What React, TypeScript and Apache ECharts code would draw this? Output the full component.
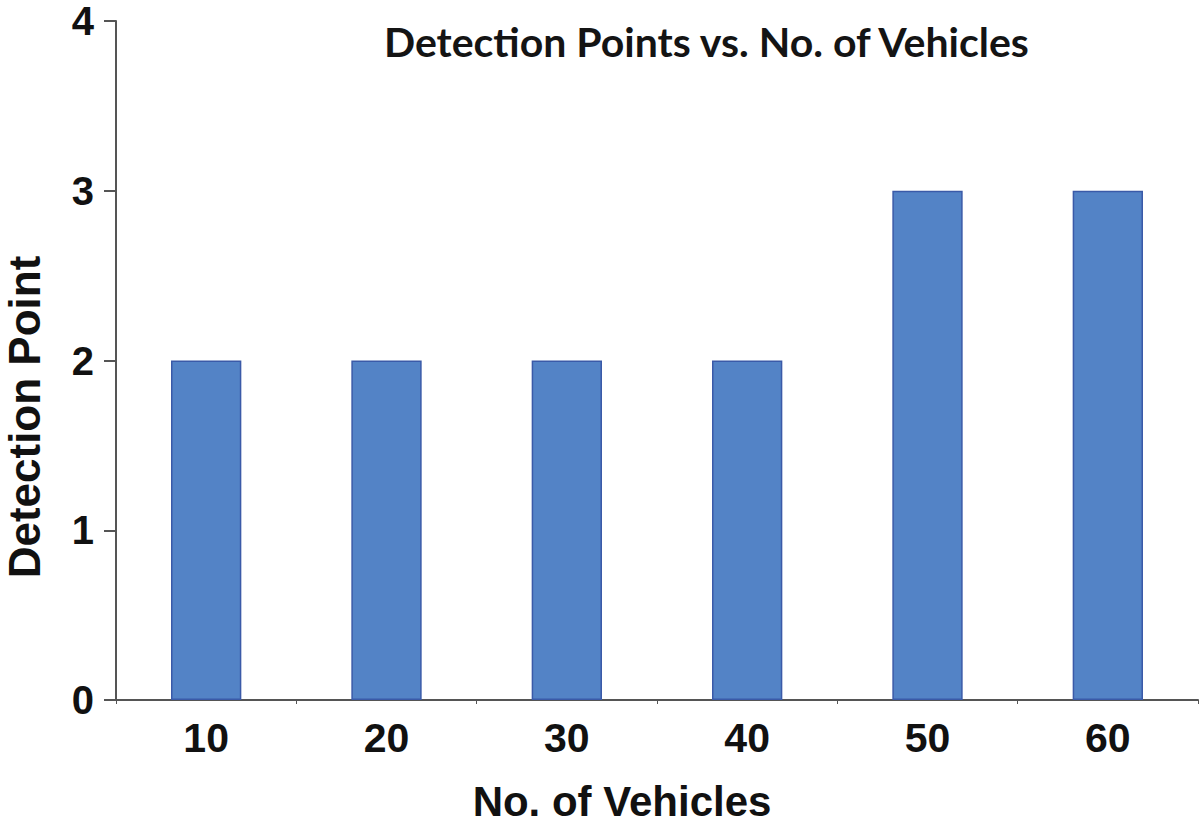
import React, { useEffect, useRef } from "react";
import * as echarts from "echarts";

const categories = ["10", "20", "30", "40", "50", "60"];
const detectionPoints = [2, 2, 2, 2, 3, 3];
const yTicks = [0, 1, 2, 3, 4];
const xTitle = "No. of Vehicles";
const yTitle = "Detection Point";

export default function App() {
  const ref = useRef<HTMLDivElement>(null);
  useEffect(() => {
    if (!ref.current) return;
    const chart = echarts.init(ref.current, null, { renderer: "svg" });
    const nameFont = {
      fontFamily: "Liberation Sans, Arial",
      fontWeight: "bold",
      fill: "#111",
      textAlign: "center",
      textVerticalAlign: "middle",
    };
    chart.setOption({
      animation: false,
      backgroundColor: "#ffffff",
      title: {
        text: "Detection Points vs. No. of Vehicles",
        left: 379,
        top: 16,
        textStyle: {
          fontFamily: "Lato",
          fontWeight: "bold",
          fontSize: 41,
          color: "#141414",
        },
      },
      grid: {
        left: 116,
        right: 2,
        top: 21,
        bottom: 125,
        containLabel: false,
        outerBoundsMode: "none",
      },
      graphic: [
        {
          type: "text",
          x: 622,
          y: 801,
          style: { ...nameFont, text: xTitle, fontSize: 42, lineHeight: 42 },
        },
        {
          type: "text",
          x: 24,
          y: 417,
          rotation: Math.PI / 2,
          style: { ...nameFont, text: yTitle, fontSize: 44 },
        },
      ],
      xAxis: {
        type: "category",
        data: categories,
        axisLine: { show: true, lineStyle: { color: "#555", width: 2 } },
        axisTick: { show: true, length: 4, lineStyle: { color: "#555", width: 1 } },
        axisLabel: {
          margin: 17,
          fontFamily: "Liberation Sans, Arial",
          fontWeight: "bold",
          fontSize: 41,
          color: "#111",
        },
      },
      yAxis: {
        type: "value",
        min: 0,
        max: 4,
        interval: 1,
        axisLine: { show: true, lineStyle: { color: "#555", width: 2 } },
        axisTick: { show: true, length: 12, lineStyle: { color: "#555", width: 2 } },
        splitLine: { show: false },
        axisLabel: {
          margin: 22,
          fontFamily: "Liberation Sans, Arial",
          fontWeight: "bold",
          fontSize: 40,
          color: "#111",
          formatter: (v: number) => (yTicks.includes(v) ? String(v) : ""),
        },
      },
      series: [
        {
          type: "bar",
          data: detectionPoints,
          barWidth: "39%",
          itemStyle: {
            color: "#5383c6",
            borderColor: "#3a5aa8",
            borderWidth: 1.5,
          },
        },
      ],
    });
    return () => chart.dispose();
  }, []);
  return (
    <div
      ref={ref}
      style={{ position: "fixed", left: 0, top: 0, width: 1200, height: 825 }}
    />
  );
}
